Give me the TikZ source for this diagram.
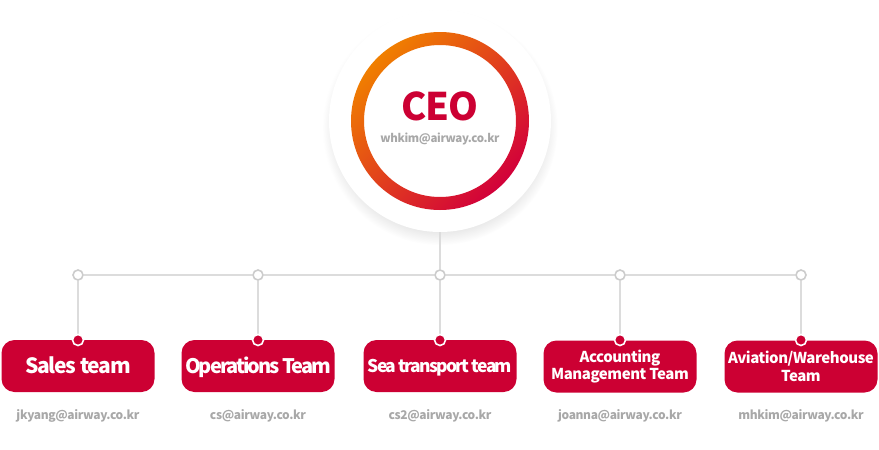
\documentclass[tikz,border=0pt]{standalone}
\usepackage{fontspec}
\setmainfont{Noto Sans CJK KR}
\newfontfamily\krA{Noto Sans CJK KR}[LetterSpace=-3]
\newfontfamily\krB{Noto Sans CJK KR}[LetterSpace=-6]
\newfontfamily\krC{Noto Sans CJK KR}[LetterSpace=-10]
\usetikzlibrary{shadows}
\definecolor{brandred}{HTML}{CC0033}
\definecolor{ringorange}{HTML}{F07F00}
\definecolor{ringred}{HTML}{D2003A}
\definecolor{linegray}{HTML}{DCDCDC}
\definecolor{dotgray}{HTML}{CCCCCC}
\definecolor{mailgray}{HTML}{A8A8A8}
\tikzset{
  teambox/.style={draw=none, fill=brandred, rounded corners=13pt, minimum width=153pt, minimum height=52pt, text=white, align=center, inner sep=1pt},
  opendot/.style={circle, draw=dotgray, line width=1.6pt, fill=white, minimum size=10pt, inner sep=0pt},
  reddot/.style={circle, draw=white, line width=1.6pt, fill=brandred, minimum size=11pt, inner sep=0pt},
  conn/.style={draw=linegray, line width=1.6pt},
  mail/.style={text=mailgray, font=\krA\fontsize{12}{14}\selectfont\bfseries, inner sep=0pt},
  salesname/.style={font=\krB\fontsize{21}{23}\selectfont\bfseries, text height=15pt, text depth=0pt},
  opsname/.style={font=\krC\fontsize{20}{23}\selectfont\bfseries, text height=14.5pt, text depth=0pt},
  seaname/.style={font=\krC\fontsize{17.5}{20}\selectfont\bfseries, text height=12.7pt, text depth=0pt},
  smallname/.style={font=\krA\fontsize{15}{17.5}\selectfont\bfseries}
}
\begin{document}
\begin{tikzpicture}[x=1pt,y=-1pt]
\useasboundingbox (0,0) rectangle (879,450);
% CEO
\node[circle, fill=white, minimum size=222pt, inner sep=0pt,
  circular drop shadow={shadow xshift=0pt, shadow yshift=-6pt, shadow scale=1.06, opacity=0.22}] (ceobg) at (440,121) {};
\shade[even odd rule, top color=ringorange, bottom color=ringred, shading angle=45]
  (440,121) circle[radius=89pt] (440,121) circle[radius=76pt];
\node[text=brandred, font=\krA\fontsize{38}{40}\selectfont\bfseries, inner sep=0pt] (ceo) at (440,106) {CEO};
\node[mail, font=\krA\fontsize{11.5}{14}\selectfont\bfseries] (ceomail) at (440,139) {whkim@airway.co.kr};
% dots
\foreach \i/\x in {1/78,2/258,3/440,4/620,5/801}{
  \node[opendot] (o\i) at (\x,275) {};
  \node[reddot] (r\i) at (\x,340) {};
}
% connectors
\draw[conn] (ceobg.south) -- (o3);
\draw[conn] (o1) -- (o2);
\draw[conn] (o2) -- (o3);
\draw[conn] (o3) -- (o4);
\draw[conn] (o4) -- (o5);
\foreach \i in {1,...,5}{ \draw[conn] (o\i) -- (r\i.north); }
% boxes
\node[teambox, salesname] (t1) at (78,366) {Sales team};
\node[teambox, opsname] (t2) at (258,366) {Operations Team};
\node[teambox, seaname] (t3) at (440,366) {Sea transport team};
\node[teambox, smallname] (t4) at (620,366.5) {Accounting\\Management Team};
\node[teambox, smallname] (t5) at (801,366.5) {Aviation/Warehouse\\Team};
% dots on top of boxes
\foreach \i/\x in {1/78,2/258,3/440,4/620,5/801}{
  \node[reddot] (rr\i) at (\x,340) {};
}
% mails
\node[mail] (m1) at (78,415.5) {jkyang@airway.co.kr};
\node[mail] (m2) at (258,415.5) {cs@airway.co.kr};
\node[mail] (m3) at (440,415.5) {cs2@airway.co.kr};
\node[mail] (m4) at (620,415.5) {joanna@airway.co.kr};
\node[mail] (m5) at (801,415.5) {mhkim@airway.co.kr};
\end{tikzpicture}
\end{document}
